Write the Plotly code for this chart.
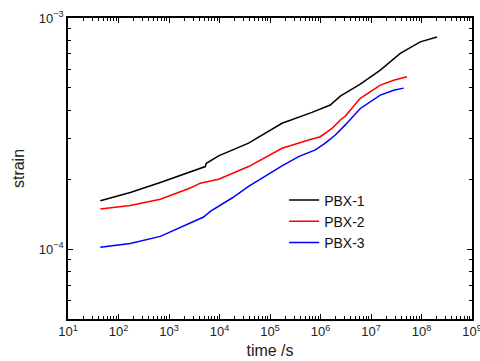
import plotly.graph_objects as go

# Data (time in s, strain)
t_pbx1 = [43.7, 171, 673, 2642, 5236, 5483, 9594, 37670, 1.73e5, 6.79e5, 9.91e5,
          1.563e6, 2.466e6, 6.14e6, 1.528e7, 3.80e7, 9.46e7, 2.03e8]
s_pbx1 = [1.622e-4, 1.762e-4, 1.945e-4, 2.168e-4, 2.280e-4, 2.355e-4, 2.535e-4, 2.877e-4,
          3.508e-4, 3.908e-4, 4.036e-4, 4.207e-4, 4.592e-4, 5.176e-4, 5.957e-4, 7.031e-4,
          7.889e-4, 8.279e-4]

t_pbx2 = [43.7, 171, 673, 2642, 4169, 9594, 37670, 1.73e5, 5.81e5, 9.91e5, 1.69e6,
          2.466e6, 3.10e6, 6.14e6, 1.528e7, 2.81e7, 5.16e7]
s_pbx2 = [1.493e-4, 1.549e-4, 1.648e-4, 1.841e-4, 1.932e-4, 2.009e-4, 2.280e-4, 2.735e-4,
          2.972e-4, 3.069e-4, 3.334e-4, 3.624e-4, 3.767e-4, 4.498e-4, 5.129e-4, 5.383e-4,
          5.572e-4]

t_pbx3 = [43.7, 171, 673, 2642, 4842, 6577, 10380, 17700, 37670, 1.73e5, 3.68e5,
          7.89e5, 1.245e6, 1.963e6, 3.10e6, 6.14e6, 1.528e7, 2.81e7, 4.43e7]
s_pbx3 = [1.021e-4, 1.059e-4, 1.138e-4, 1.300e-4, 1.380e-4, 1.459e-4, 1.549e-4, 1.667e-4,
          1.871e-4, 2.296e-4, 2.518e-4, 2.692e-4, 2.877e-4, 3.119e-4, 3.451e-4, 4.064e-4,
          4.645e-4, 4.875e-4, 4.977e-4]

series_names = ["PBX-1", "PBX-2", "PBX-3"]
series_colors = ["#000000", "#ff0000", "#0000ff"]

x_tickvals = [10 ** k for k in range(1, 10)]
x_ticktext = ["10<sup>%d</sup>" % k for k in range(1, 10)]
y_tickvals = [1e-4, 1e-3]
y_ticktext = ["10<sup>\u22124</sup>", "10<sup>\u22123</sup>"]

x_minor = [m * 10 ** k for k in range(1, 9) for m in range(2, 10)]
y_minor = [m * 10 ** k for k in range(-5, -3) for m in range(2, 10)]

FONT = "Liberation Sans, Arial, sans-serif"

fig = go.Figure()
for tt, ss, name, col in zip([t_pbx1, t_pbx2, t_pbx3], [s_pbx1, s_pbx2, s_pbx3],
                             series_names, series_colors):
    fig.add_trace(go.Scatter(x=tt, y=ss, mode="lines", name=name,
                             line=dict(color=col, width=1.5)))

axis_common = dict(
    showgrid=False, zeroline=False, showline=True, linecolor="black", linewidth=1.5,
    mirror="allticks", ticks="inside", ticklen=5, tickwidth=1.2, tickcolor="black",
    tickfont=dict(family=FONT, size=13, color="#222"), automargin=False,
    ticklabeloverflow="allow",
)

fig.update_xaxes(
    type="log", range=[1, 9], tickmode="array", tickvals=x_tickvals, ticktext=x_ticktext,
    minor=dict(tickmode="array", tickvals=x_minor, ticks="inside", ticklen=3,
               tickwidth=1, tickcolor="black", showgrid=False),
    title=dict(text="time /s", font=dict(family=FONT, size=16, color="#222"), standoff=6),
    **axis_common,
)
fig.update_yaxes(
    type="log", range=[-4.301, -3], tickmode="array", tickvals=y_tickvals, ticktext=y_ticktext,
    minor=dict(tickmode="array", tickvals=y_minor, ticks="inside", ticklen=3,
               tickwidth=1, tickcolor="black", showgrid=False),
    title=dict(text="strain", font=dict(family=FONT, size=16, color="#222"), standoff=10),
    **axis_common,
)

fig.update_layout(
    width=480, height=361,
    margin=dict(l=68, r=8, t=18, b=42),
    paper_bgcolor="white", plot_bgcolor="white",
    legend=dict(x=0.535, y=0.447, xanchor="left", yanchor="top",
                bgcolor="rgba(0,0,0,0)", tracegroupgap=0,
                font=dict(family=FONT, size=14, color="#111")),
)

fig.write_html("out.html")
